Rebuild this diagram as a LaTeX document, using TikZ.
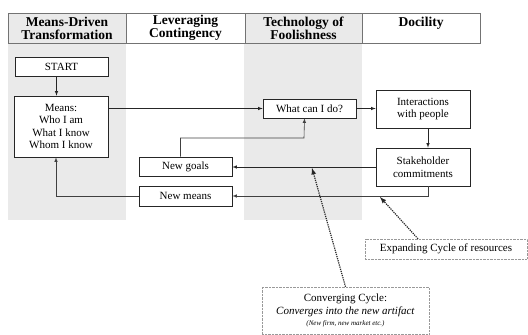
\documentclass[tikz,border=0pt]{standalone}
\usepackage{fontspec}
\setmainfont{Liberation Serif}
\usetikzlibrary{arrows}
\usetikzlibrary{calc}

\definecolor{bandgray}{RGB}{234,234,234}

\tikzset{
  headcell/.style={draw=black!55,line width=1pt,minimum height=30pt,inner sep=0pt,align=center,
    font=\fontsize{13.5}{13}\selectfont\bfseries},
  stepbox/.style={draw=black!85,fill=white,semithick,inner sep=1pt,align=center,
    font=\fontsize{11}{12.5}\selectfont},
  flow/.style={draw=black!85,semithick,-latex},
  loopback/.style={draw=black!75,semithick,-latex},
  notebox/.style={draw=black!40,densely dotted,fill=white,inner sep=1pt,align=center,
    font=\fontsize{11}{12.5}\selectfont},
  pointer/.style={draw=black!85,line width=1.2pt,densely dotted,-latex},
}

\begin{document}
\begin{tikzpicture}[x=1pt,y=-1pt]

\useasboundingbox (0,0) rectangle (528,335);

% shaded columns
\fill[bandgray] (8,43) rectangle (126,220);
\fill[bandgray] (244,43) rectangle (362,220);

% column heads
\node[headcell,fill=bandgray,minimum width=118pt] (meanshead) at (67,28) {Means-Driven\\Transformation};
\node[headcell,minimum width=119pt] (levhead) at (185.5,28) {Leveraging\\Contingency};
\node[headcell,fill=bandgray,minimum width=117pt] (foolhead) at (303.5,28) {Technology of\\Foolishness};
\node[headcell,minimum width=118pt] (docihead) at (421,28) {Docility\\\mbox{}};

% process boxes
\node[stepbox,minimum width=93pt,minimum height=19pt] (start) at (61.5,66.5) {START};
\node[stepbox,minimum width=94pt,minimum height=61pt] (means) at (61,126.5) {Means:\\Who I am\\What I know\\Whom I know};
\node[stepbox,minimum width=93pt,minimum height=19pt] (whatcan) at (309.5,108.5) {What can I do?};
\node[stepbox,minimum width=94pt,minimum height=38pt] (interact) at (423,109) {Interactions\\with people};
\node[stepbox,minimum width=94pt,minimum height=38pt] (stake) at (423,167) {Stakeholder\\commitments};
\node[stepbox,minimum width=93pt,minimum height=19pt] (goals) at (185.5,166.5) {New goals};
\node[stepbox,minimum width=93pt,minimum height=20pt] (newmeans) at (185.5,196) {New means};

% %  notes
\node[notebox,minimum width=162pt,minimum height=20pt] (expand) at (446,249) {Expanding Cycle of resources};
\node[notebox,minimum width=167pt,minimum height=47pt] (converge) at (345.5,310.5)
  {Converging Cycle:\\\textit{Converges into the new artifact}\\[-1pt]{\fontsize{7}{8}\selectfont\textit{(New firm, new market etc.)}}};

% forward flow
\draw[flow] ([xshift=-5pt]start.south) -- ([xshift=-5pt]start.south |- means.north);
\draw[flow] (means.east |- whatcan.west) -- (whatcan.west);
\draw[flow] (whatcan.east) -- (whatcan.east -| interact.west);
\draw[flow] ([xshift=5pt]interact.south) -- ([xshift=5pt]stake.north);
\draw[flow] (stake.west) -- (stake.west -| goals.east);

% loops back
\draw[loopback] ([xshift=5pt]stake.south) |- (newmeans.east);
\draw[loopback] ([xshift=-5pt]goals.north) |- (304,138) -- ([xshift=-5pt]whatcan.south);
\draw[loopback] (newmeans.west) -| ([xshift=-5pt]means.south);

% note pointers
\coordinate (convtip) at (312,168);
\coordinate (exptip) at (380,197);
\draw[pointer] (converge.north) -- (convtip);
\draw[pointer] ([xshift=-28pt]expand.north) -- (exptip);

\end{tikzpicture}
\end{document}
